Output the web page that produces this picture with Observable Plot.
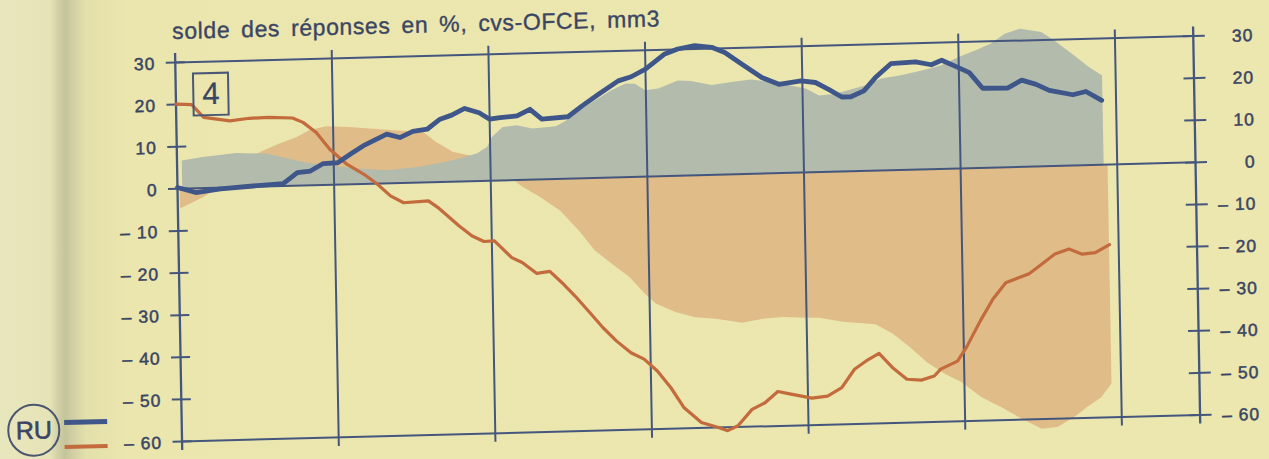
<!DOCTYPE html>
<html><head><meta charset="utf-8">
<script src="https://cdn.jsdelivr.net/npm/d3@7"></script>
<script src="https://cdn.jsdelivr.net/npm/@observablehq/plot@0.6"></script>
<style>
html,body{margin:0;padding:0;width:1269px;height:459px;overflow:hidden;}
body{background:linear-gradient(to right,#e8e6bd 0px,#e6e3b7 50px,#d2d0a6 58px,#c6c49b 65px,#d3d0a5 74px,#e4e0ab 86px,#ebe6ad 130px,#ece7ae 100%);}
#wrap{position:relative;width:1269px;height:459px;transform-origin:177px 188px;transform:matrix(1,-0.026,0.018,1,0,0);font-family:"Liberation Sans",Arial,Helvetica,sans-serif;color:#3a4564;}
#chart{position:absolute;left:0;top:0;}
#chart svg text{letter-spacing:1px;}
#title{position:absolute;left:175px;top:20px;font-size:23px;line-height:23px;letter-spacing:0.6px;word-spacing:4px;white-space:nowrap;-webkit-text-stroke:0.35px #3a4564;}
#box{position:absolute;left:194px;top:73px;width:33px;height:40px;border:2px solid #4a5878;font-size:31px;line-height:40px;text-align:center;-webkit-text-stroke:0.3px #3a4564;}
#ru{position:absolute;left:3px;top:400px;width:49px;height:49px;border:2px solid #4a5570;border-radius:50%;font-size:25px;line-height:49px;text-align:center;-webkit-text-stroke:0.6px #3a4564;}
.sw{position:absolute;left:60px;width:43px;}
</style></head>
<body>
<div id="wrap">
  <div id="chart"></div>
  <div id="title">solde des réponses en %, cvs-OFCE, mm3</div>
  <div id="box">4</div>
  <div id="ru">RU</div>
  <div class="sw" style="top:417px;height:5px;background:#3e5689;"></div>
  <div class="sw" style="top:442px;height:4px;background:#c36b3d;"></div>
</div>
<script>
// months since start of chart (left axis), values in % balance
const yTicks = [30, 20, 10, 0, -10, -20, -30, -40, -50, -60];
const frameLines = [30, 0, -60];
const yearLines = [12, 24, 36, 48, 60, 72];
const xDomain = [0, 78];

const blueLineM = [0,1.4,3.3,5.8,8.1,9.2,10.2,11.2,12.3,13.3,14.3,16.1,17.1,18.1,19.2,20.2,21.1,22.1,23.2,24.0,24.8,26.1,27.1,28.0,30.0,31.1,32.4,33.9,34.9,36.0,37.5,38.5,39.8,41.1,42.1,43.4,44.9,46.2,47.9,49.0,50.0,51.0,51.7,52.7,53.6,54.8,56.7,57.9,58.7,59.8,60.8,61.8,63.7,64.8,65.9,66.9,68.7,69.7,70.9];
const blueLineV = [0.3,-1.0,-0.3,0.2,0.6,3.1,3.4,5.1,5.2,7.2,9.1,11.7,10.8,12.2,12.6,14.9,15.8,17.3,16.2,14.6,14.9,15.2,16.7,14.3,14.7,17.2,19.9,22.9,23.8,25.5,29.0,30.1,30.8,30.3,29.0,26.1,22.8,21.1,21.8,21.3,19.6,17.7,17.7,19.0,22.1,25.3,25.6,24.8,25.8,24.2,22.7,18.9,18.8,20.6,19.5,18.0,16.8,17.5,15.3];

const orangeLineM = [0,1.2,2.1,4.1,5.6,7.1,8.9,9.7,10.7,11.7,13.0,14.3,15.3,16.3,17.3,19.2,19.9,21.5,22.5,23.4,24.2,25.5,26.3,27.4,28.4,29.3,30.3,31.4,32.4,33.4,34.5,35.5,36.5,37.5,38.5,39.8,41.1,41.8,42.6,43.7,44.7,45.7,46.7,48.3,49.5,50.6,51.6,52.5,53.5,54.5,55.6,56.7,57.7,58.2,59.5,60.2,61.3,62.3,63.3,65.1,66.1,67.1,68.2,69.2,70.2,71.3];
const orangeLineV = [20.1,19.9,16.8,15.8,16.3,16.4,16.1,15.0,12.5,8.5,4.8,2.3,-0.1,-3.0,-4.7,-4.4,-6.0,-10.5,-13.0,-14.4,-14.3,-18.4,-19.6,-22.3,-21.9,-24.6,-27.9,-31.9,-35.6,-38.8,-41.7,-43.3,-46.2,-50.2,-55.1,-58.7,-60.0,-60.8,-59.7,-55.9,-54.4,-51.8,-52.5,-53.6,-53.2,-51.3,-47.0,-45.1,-43.4,-46.8,-49.7,-50.0,-49.1,-47.5,-45.7,-42.5,-36.3,-31.2,-27.4,-25.4,-23.2,-20.9,-19.8,-21.1,-20.8,-19.0];

const blueAreaM = [0.4,2.0,4.6,6.9,9.7,11.7,13.8,16.1,18.6,21.1,23.0,23.8,24.2,25.0,26.1,27.3,29.1,29.9,30.9,31.9,33.4,34.5,35.2,36.0,37.0,38.5,39.5,41.1,42.6,44.1,45.7,47.0,48.3,49.3,50.3,51.3,52.9,54.1,55.6,57.2,58.7,60.0,61.3,62.5,63.6,64.8,66.4,67.4,68.7,70.0,71.0];
const blueAreaV = [6.6,7.3,8.0,7.7,5.5,4.5,3.6,3.0,3.6,4.9,6.4,7.9,10.3,12.5,12.9,12.0,12.4,13.7,16.0,17.9,20.6,22.1,22.0,20.4,20.7,22.5,22.3,21.2,21.8,22.3,21.6,20.7,19.8,18.1,18.3,19.0,20.2,21.7,22.4,23.4,24.5,26.3,27.8,29.3,31.6,32.7,31.8,29.7,26.5,23.2,21.1];

const orangeAreaM = [0.2,2.0,2.8,4.5,6.4,7.9,9.2,10.2,11.5,13.3,14.8,16.9,18.9,19.9,21.2,22.5,24.0,25.7,26.5,27.8,29.3,30.7,31.9,33.2,34.5,35.7,36.5,38.0,39.5,41.1,43.1,44.7,46.2,47.4,49.0,50.8,53.3,54.6,55.9,57.2,58.5,59.8,61.3,62.8,64.4,65.9,67.1,68.4,69.4,70.5,71.3];
const orangeAreaV = [-4.8,-2.2,-0.7,3.5,8.1,10.0,11.4,13.0,13.8,13.5,13.0,12.4,11.9,9.4,6.9,6.0,3.5,0,-1.8,-4.3,-7.6,-12.4,-17.3,-20.6,-23.8,-27.9,-30.3,-32.4,-33.8,-34.3,-35.4,-34.6,-34.3,-34.5,-34.7,-35.8,-36.6,-38.9,-42.2,-45.9,-48.7,-50.8,-54.5,-57.0,-59.9,-62.4,-62.1,-59.8,-57.5,-55.3,-52.1];

const zip = (m, v) => m.map((x, i) => ({x, y: v[i]}));
const fmt = d => d < 0 ? "\u2013 " + Math.abs(d) : String(d);

const axisColor = "#44567d";
const textColor = "#3a4564";

const chart = Plot.plot({
  width: 1269, height: 459,
  marginLeft: 177, marginRight: 74, marginTop: 62, marginBottom: 18,
  x: {domain: xDomain, axis: null},
  y: {domain: [-60, 30], axis: null},
  style: {background: "transparent", fontFamily: "'Liberation Sans', Arial, Helvetica, sans-serif", color: textColor},
  marks: [
    Plot.areaY(zip(orangeAreaM, orangeAreaV), {x: "x", y: "y", fill: "#dfbc88"}),
    Plot.areaY(zip(blueAreaM, blueAreaV), {x: "x", y: "y", fill: "#b3bbad"}),
    Plot.ruleY(frameLines, {stroke: axisColor, strokeWidth: 2}),
    Plot.ruleX(yearLines, {stroke: axisColor, strokeWidth: 2, insetTop: -8, insetBottom: -9}),
    Plot.ruleX(xDomain, {stroke: axisColor, strokeWidth: 2.3, insetTop: -9, insetBottom: -9}),
    Plot.ruleY(yTicks, {x1: xDomain[0], x2: xDomain[0], y: d => d, stroke: axisColor, strokeWidth: 2, insetLeft: -9, insetRight: -10}),
    Plot.ruleY(yTicks, {x1: xDomain[1], x2: xDomain[1], y: d => d, stroke: axisColor, strokeWidth: 2, insetLeft: -10, insetRight: -12}),
    Plot.text(yTicks, {x: xDomain[0], y: d => d, text: fmt, dx: -20, dy: 1, textAnchor: "end", fontSize: 17.5, fill: textColor, stroke: textColor, strokeWidth: 0.5}),
    Plot.text(yTicks, {x: xDomain[1], y: d => d, text: fmt, dx: 60, dy: 1, textAnchor: "end", fontSize: 17.5, fill: textColor, stroke: textColor, strokeWidth: 0.5}),
    Plot.line(zip(orangeLineM, orangeLineV), {x: "x", y: "y", stroke: "#c36b3d", strokeWidth: 3.2}),
    Plot.line(zip(blueLineM, blueLineV), {x: "x", y: "y", stroke: "#3e5689", strokeWidth: 4.8})
  ]
});
document.getElementById("chart").appendChild(chart);
</script>
</body></html>
